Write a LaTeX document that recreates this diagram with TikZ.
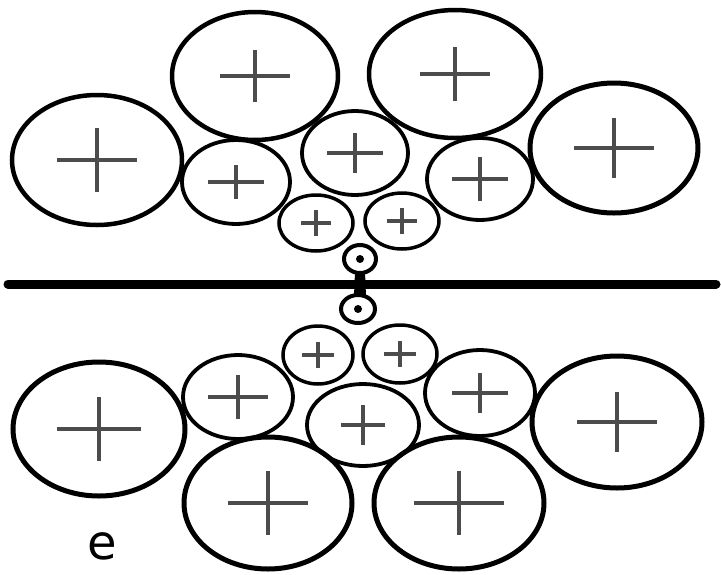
\documentclass[tikz,border=0pt]{standalone}
\usepackage{fontspec}
\setmainfont{DejaVu Sans}
\newcommand{\gearcell}[7]{%
  \draw[cellline,line width=#7] (#1,#2) ellipse [x radius=#3, y radius=#4];
  \draw[crossline] (#1-#5,#2) -- (#1+#5,#2);
  \draw[crossline] (#1,#2-#6) -- (#1,#2+#6);
}
\begin{document}
\begin{tikzpicture}[x=1pt,y=-1pt,
  cellline/.style={draw=black},
  crossline/.style={draw=black!70,line width=3.2pt},
  tinyring/.style={draw=black,line width=4pt},
  axisline/.style={draw=black,line width=9pt,line cap=round}]
\useasboundingbox (0,0) rectangle (721,574);
\fill[white] (0,0) rectangle (721,574);
% top half
\gearcell{255}{76}{83}{64}{35}{26}{4.5pt}
\gearcell{455}{74}{86}{64}{35}{27}{4.5pt}
\gearcell{97}{160}{85}{65}{40}{32}{4.5pt}
\gearcell{614}{148}{84}{65}{40}{30}{5pt}
\gearcell{236}{182}{54}{42}{28}{17}{3.8pt}
\gearcell{355}{153}{53}{42}{28}{20}{3.8pt}
\gearcell{480}{179}{53}{41}{28}{22}{3.8pt}
\gearcell{316}{223}{37}{28}{15}{13}{3.5pt}
\gearcell{402}{221}{37}{28}{15}{13}{3.5pt}
% central link between tiny rings and axis
\fill[black] (355,272) -- (365,272) -- (366,296) -- (354,296) -- cycle;
\draw[tinyring,fill=white] (360,259) ellipse [x radius=16, y radius=14];
\fill[black] (360,259) circle [radius=4];
% axis
\draw[axisline] (8,284) -- (716,284);
% bottom half
\draw[tinyring,fill=white] (358,309) ellipse [x radius=17, y radius=14];
\fill[black] (358,309) circle [radius=4];
\gearcell{318}{355}{35}{29}{16}{13}{3.5pt}
\gearcell{400}{354}{37}{29}{16}{13}{3.5pt}
\gearcell{238}{397}{55}{42}{30}{22}{3.8pt}
\gearcell{363}{425}{56}{41}{22}{20}{3.8pt}
\gearcell{480}{393}{55}{43}{28}{20}{3.8pt}
\gearcell{99}{429}{86}{67}{42}{32}{5pt}
\gearcell{617}{422}{85}{66}{40}{30}{5pt}
\gearcell{268}{503}{84}{66}{40}{32}{5pt}
\gearcell{459}{503}{85}{66}{45}{32}{5pt}
% label
\node[scale=4.8,inner sep=0.5pt] (lab) at (102,546) {e};
\end{tikzpicture}
\end{document}
